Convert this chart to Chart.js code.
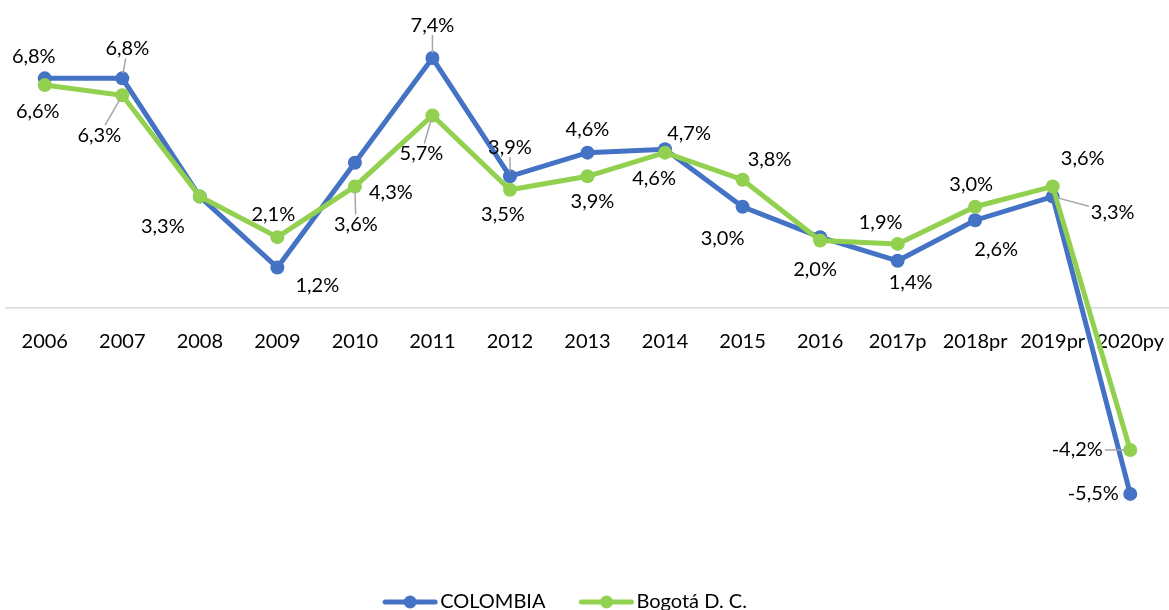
<!DOCTYPE html>
<html><head><meta charset="utf-8">
<script src="https://cdn.jsdelivr.net/npm/chart.js@4/dist/chart.umd.min.js"></script>
<style>html,body{margin:0;padding:0;overflow:hidden;background:#fff}#wrap{width:1169px;height:622px;position:relative}</style>
</head><body><div id="wrap"><canvas id="c"></canvas></div>
<script>
const categories = ['2006','2007','2008','2009','2010','2011','2012','2013','2014','2015','2016','2017p','2018pr','2019pr','2020py'];
const colombia = [6.8, 6.8, 3.3, 1.2, 4.3, 7.4, 3.9, 4.6, 4.7, 3.0, 2.1, 1.4, 2.6, 3.3, -5.5];
const bogota   = [6.6, 6.3, 3.3, 2.1, 3.6, 5.7, 3.5, 3.9, 4.6, 3.8, 2.0, 1.9, 3.0, 3.6, -4.2];
const seriesNames = ['COLOMBIA', 'Bogotá D. C.'];

// label placement (dx, dy from point, leader line); null = label not shown
const colombiaLabelPos = [[-11,-22,0],[5,-30,1],[-37,30,0],[40,18,0],[36,30,0],[0,-33,1],[0,-29,1],[0,-23,0],[24,-16,0],[-20,32,0],null,[13,22,0],[21,29,0],[60,16,1],[-37,0,0]];
const bogotaLabelPos   = [[-7,26,0],[-23,40,1],null,[-4,-23,0],[1,38,1],[-11,38,1],[-7,25,0],[5,25,0],[-11,26,0],[27,-20,0],[-5,29,0],[-17,-21,0],[-4,-22,0],[30,-28,0],[-53,0,1]];

const BLUE = '#4472C4', GREEN = '#92D050';
const FONT = 'Lato, "Open Sans", sans-serif';
const FS = 20;

function legendImg(color){
  const c = document.createElement('canvas');
  c.width = 56; c.height = 16;
  const x = c.getContext('2d');
  x.strokeStyle = color; x.lineWidth = 5; x.lineCap = 'round';
  x.beginPath(); x.moveTo(3,8); x.lineTo(53,8); x.stroke();
  x.fillStyle = color; x.beginPath(); x.arc(28,8,6.5,0,Math.PI*2); x.fill();
  return c;
}
const legendImgs = [legendImg(BLUE), legendImg(GREEN)];

const fmt = v => v.toFixed(1).replace('.', ',') + '%';

const labelPlugin = {
  id: 'pointLabels',
  afterLayout(chart){
    if (chart.legend) chart.legend.right -= 38;
  },
  afterDatasetsDraw(chart){
    const ctx = chart.ctx;
    const posSets = [colombiaLabelPos, bogotaLabelPos];
    ctx.save();
    ctx.font = FS + 'px ' + FONT;
    ctx.textAlign = 'center';
    ctx.textBaseline = 'middle';
    chart.data.datasets.forEach((ds, di) => {
      const meta = chart.getDatasetMeta(di);
      meta.data.forEach((pt, i) => {
        const p = posSets[di][i];
        if (!p) return;
        const txt = fmt(ds.data[i]);
        const cx = pt.x + p[0], cy = pt.y + p[1];
        if (p[2]) {
          const w = ctx.measureText(txt).width / 2 + 2, h = 10;
          const dx = pt.x - cx, dy = pt.y - cy;
          const d = Math.hypot(dx, dy);
          const t = Math.min(dx ? w / Math.abs(dx) : 1e9, dy ? h / Math.abs(dy) : 1e9);
          const ex = cx + dx * t, ey = cy + dy * t;
          const sx = pt.x - dx / d * 5, sy = pt.y - dy / d * 5;
          ctx.strokeStyle = '#a6a6a6'; ctx.lineWidth = 1.5;
          ctx.beginPath(); ctx.moveTo(ex, ey); ctx.lineTo(sx, sy); ctx.stroke();
        }
        ctx.fillStyle = '#000';
        ctx.fillText(txt, cx, cy);
      });
    });
    ctx.restore();
  }
};

new Chart(document.getElementById('c'), {
  type: 'line',
  data: {
    labels: categories,
    datasets: [
      { label: seriesNames[0], data: colombia, borderColor: BLUE, backgroundColor: BLUE, borderWidth: 5, pointRadius: 7, pointBackgroundColor: BLUE, pointBorderWidth: 0, order: 2, clip: false },
      { label: seriesNames[1], data: bogota, borderColor: GREEN, backgroundColor: GREEN, borderWidth: 5, pointRadius: 7, pointBackgroundColor: GREEN, pointBorderWidth: 0, order: 1, clip: false }
    ]
  },
  options: {
    responsive: true, maintainAspectRatio: false, animation: false,
    devicePixelRatio: 1,
    layout: { autoPadding: false, padding: { top: 4, left: 6, right: 0, bottom: 0 } },
    scales: {
      x: {
        position: { y: 0 },
        offset: true,
        afterFit: (s) => { s.paddingLeft = 0; s.paddingRight = 0; },
        grid: { display: true, color: 'rgba(0,0,0,0)', tickColor: 'rgba(0,0,0,0)', drawTicks: true, tickLength: 21 },
        border: { display: true, color: '#d9d9d9', width: 1.5 },
        ticks: { color: '#000', font: { family: FONT, size: FS }, padding: 0, maxRotation: 0, autoSkip: false }
      },
      y: { display: false, min: -7.19, max: 9, afterFit: (s) => { s.paddingTop = 0; s.paddingBottom = 0; } }
    },
    plugins: {
      tooltip: { enabled: false },
      legend: {
        position: 'bottom',
        labels: {
          usePointStyle: true, pointStyleWidth: 40, padding: 41,
          color: '#000', font: { family: FONT, size: FS },
          generateLabels: (chart) => chart.data.datasets.map((ds, i) => ({
            text: ds.label, pointStyle: legendImgs[i], fillStyle: ds.borderColor, strokeStyle: ds.borderColor,
            lineWidth: 0, hidden: false, datasetIndex: i, fontColor: '#000'
          }))
        }
      }
    }
  },
  plugins: [labelPlugin]
});
</script>
</body></html>
